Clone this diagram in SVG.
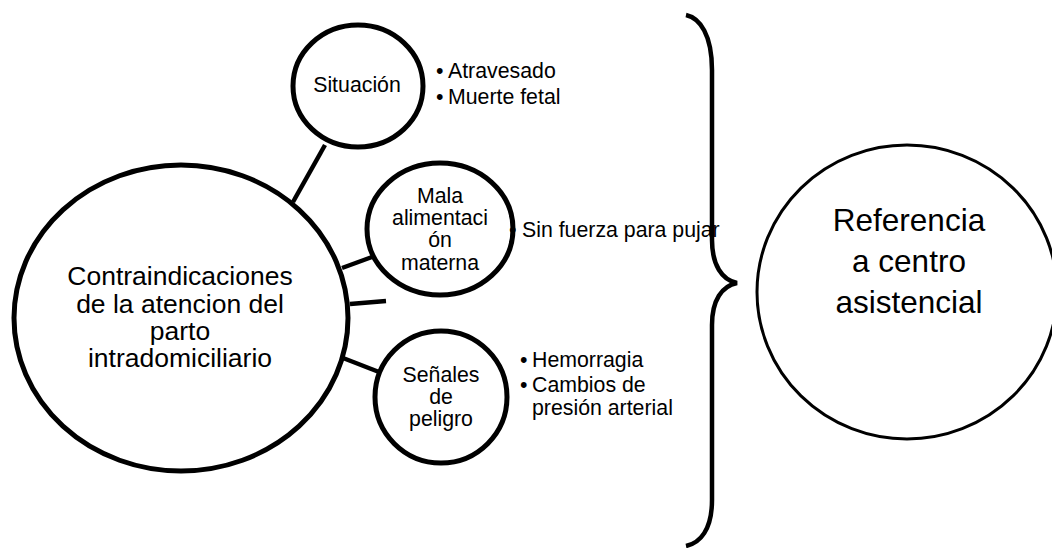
<svg xmlns="http://www.w3.org/2000/svg" width="1052" height="548" viewBox="0 0 1052 548">
<style>
text{font-family:"Liberation Sans",Arial,sans-serif;fill:#000}
.n{fill:#fff;stroke:#000;stroke-width:5}
.r{fill:#fff;stroke:#000;stroke-width:3}
.c{stroke:#000;stroke-width:4.5;fill:none}
.s{font-size:21.3px}
.m{font-size:26.5px}
.l{font-size:31.5px}
</style>
<rect width="1052" height="548" fill="#fff"/>
<g id="connectors">
<line class="c" x1="325" y1="145" x2="293" y2="202"/>
<line class="c" x1="342" y1="268" x2="372" y2="257"/>
<line class="c" x1="350" y1="304" x2="386" y2="301"/>
<line class="c" x1="343" y1="358" x2="379" y2="372"/>
<path class="c" stroke-width="6" d="M686,15 C700,18 712,35 712,70 L712,240 C712,265 722,280 737,283 C722,286 712,300 712,325 L712,500 C712,530 700,543 686,546"/>
</g>
<g id="main">
<ellipse class="n" cx="181" cy="318" rx="167" ry="153"/>
<text class="m" text-anchor="middle"><tspan x="180" y="285">Contraindicaciones</tspan><tspan x="180" y="313">de la atencion del</tspan><tspan x="180" y="340">parto</tspan><tspan x="180" y="367">intradomiciliario</tspan></text>
</g>
<g id="situacion">
<ellipse class="n" cx="358" cy="86" rx="65" ry="61"/>
<text class="s" x="357" y="92" text-anchor="middle">Situación</text>
</g>
<g id="situacion-items">
<text class="s"><tspan x="436" y="78">•</tspan><tspan x="448" y="78">Atravesado</tspan><tspan x="436" y="104">•</tspan><tspan x="448" y="104">Muerte fetal</tspan></text>
</g>
<g id="mala">
<ellipse class="n" cx="440" cy="229" rx="73" ry="66"/>
<text class="s" text-anchor="middle"><tspan x="440" y="203">Mala</tspan><tspan x="440" y="225">alimentaci</tspan><tspan x="440" y="247">ón</tspan><tspan x="440" y="270">materna</tspan></text>
</g>
<g id="mala-items">
<text class="s"><tspan x="509" y="237">•</tspan><tspan x="522" y="237">Sin fuerza para pujar</tspan></text>
</g>
<g id="senales">
<ellipse class="n" cx="441" cy="397" rx="66" ry="66"/>
<text class="s" text-anchor="middle"><tspan x="441" y="382">Señales</tspan><tspan x="441" y="404">de</tspan><tspan x="441" y="426">peligro</tspan></text>
</g>
<g id="senales-items">
<text class="s"><tspan x="520" y="367">•</tspan><tspan x="532" y="367">Hemorragia</tspan><tspan x="520" y="392">•</tspan><tspan x="532" y="392">Cambios de</tspan><tspan x="532" y="415">presión arterial</tspan></text>
</g>
<g id="referencia">
<ellipse class="r" cx="907" cy="292" rx="150" ry="147"/>
<text class="l" text-anchor="middle"><tspan x="909" y="231">Referencia</tspan><tspan x="909" y="272">a centro</tspan><tspan x="909" y="313">asistencial</tspan></text>
</g>
</svg>
